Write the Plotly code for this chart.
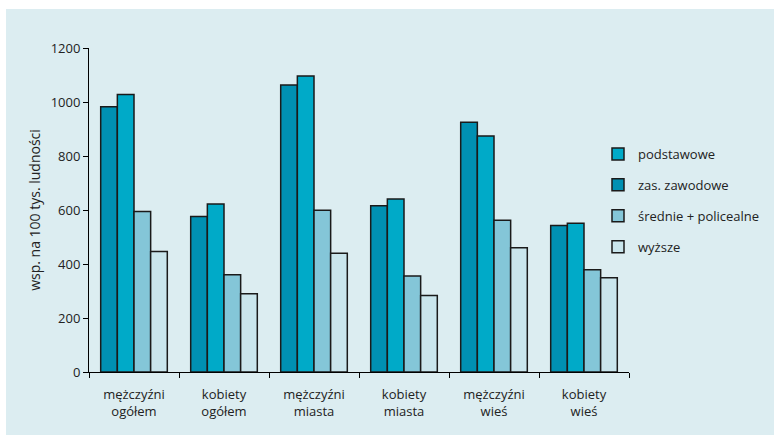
import plotly.graph_objects as go

categories = ["mężczyźni<br>ogółem", "kobiety<br>ogółem", "mężczyźni<br>miasta",
              "kobiety<br>miasta", "mężczyźni<br>wieś", "kobiety<br>wieś"]
zas_zawodowe = [982, 576, 1063, 616, 925, 543]
podstawowe = [1028, 622, 1096, 641, 874, 551]
srednie = [594, 360, 599, 356, 562, 379]
wyzsze = [446, 290, 440, 283, 460, 349]
y_ticks = [0, 200, 400, 600, 800, 1000, 1200]

series = [
    ("zas. zawodowe", zas_zawodowe, "#0090B2", 2),
    ("podstawowe", podstawowe, "#00AAC8", 1),
    ("średnie + policealne", srednie, "#84C6D8", 3),
    ("wyższe", wyzsze, "#C9E5EC", 4),
]

fig = go.Figure()
for name, vals, col, rank in series:
    fig.add_trace(go.Bar(
        x=categories, y=vals, name=name, legendrank=rank, legendgroup=name,
        marker=dict(color=col, line=dict(color="#1a1a1a", width=1.5)),
    ))

W, H = 774, 435
L, R, T, B = 89, 629, 48, 372
pw, ph = R - L, B - T

def px(x):
    return (x - L) / pw

def py(y):
    return (B - y) / ph

fig.add_shape(type="rect", xref="paper", yref="paper",
              x0=px(6), x1=px(W + 2), y0=py(H + 2), y1=py(9),
              fillcolor="#DCEDF1", line=dict(width=0), layer="below")

font = "Open Sans, Noto Sans, sans-serif"
fig.update_layout(
    width=W, height=H,
    margin=dict(l=L, r=W - R, t=T, b=H - B, autoexpand=False),
    paper_bgcolor="white", plot_bgcolor="rgba(0,0,0,0)",
    barmode="group", bargap=0.26, bargroupgap=0,
    font=dict(family=font, size=13, color="#222"),
    legend=dict(x=px(598), y=py(139), xanchor="left", yanchor="top",
                bgcolor="rgba(0,0,0,0)", tracegroupgap=11,
                font=dict(size=13, color="#222")),
    showlegend=True,
)
fig.update_xaxes(
    showline=True, linecolor="black", linewidth=1,
    ticks="outside", tickson="boundaries", ticklen=5, tickcolor="black",
    showgrid=False, tickfont=dict(size=13, color="#222"), ticklabelstandoff=10,
)
fig.update_yaxes(
    range=[0, 1200], tickvals=y_ticks, showline=True, linecolor="black", linewidth=1,
    ticks="outside", ticklen=5, tickcolor="black", showgrid=False, zeroline=False,
    tickfont=dict(size=13, color="#222"),
    title=dict(text="wsp. na 100 tys. ludności", font=dict(size=14, color="#222"), standoff=6),
)
fig.write_html("out.html")
